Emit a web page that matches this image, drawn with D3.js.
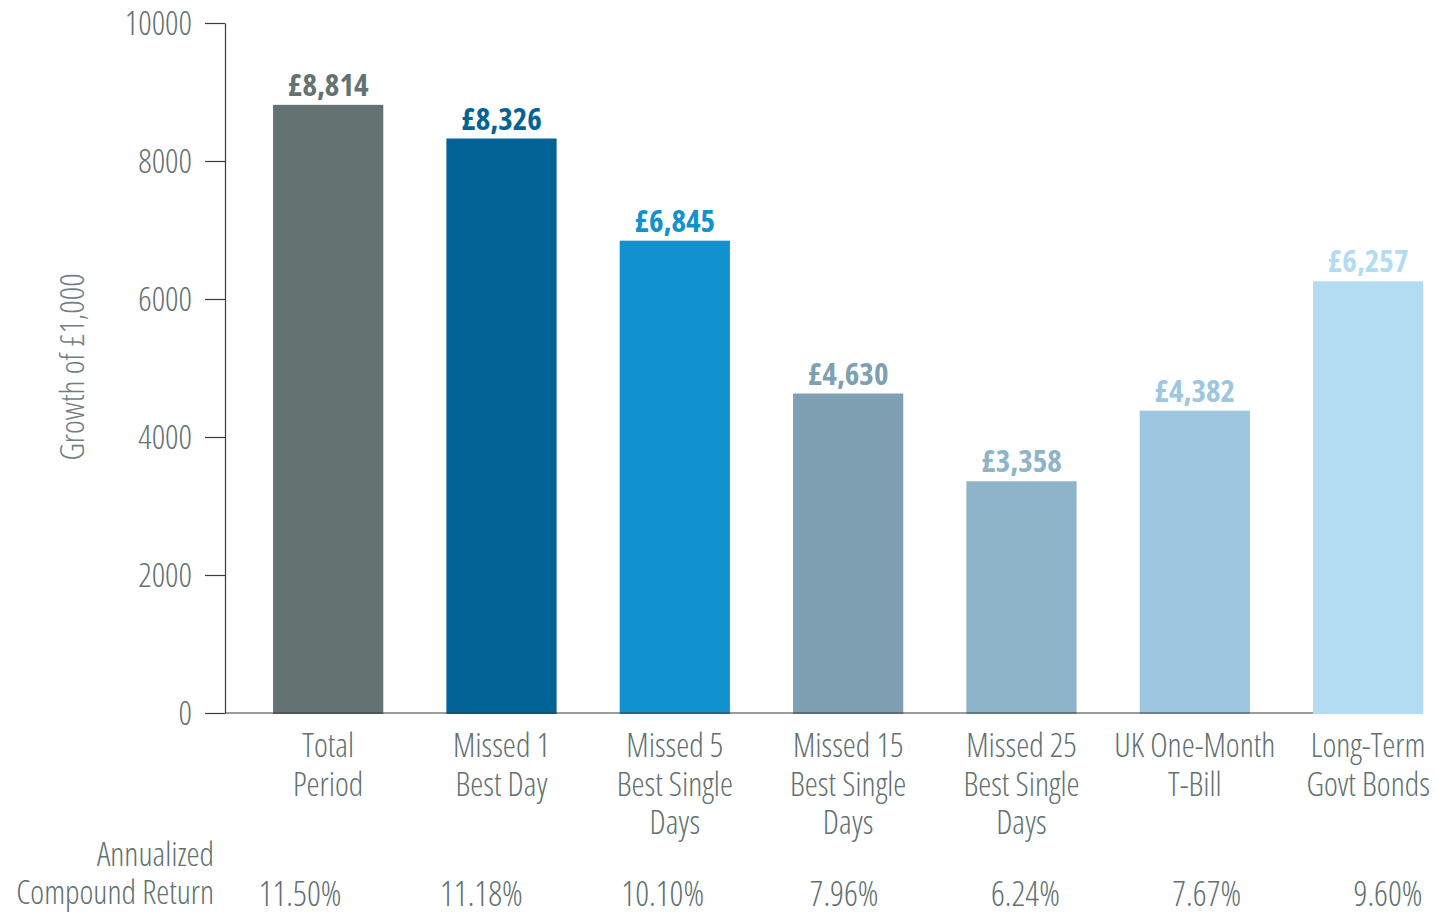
<!DOCTYPE html>
<html>
<head>
<meta charset="utf-8">
<script src="https://cdn.jsdelivr.net/npm/d3@7"></script>
<style>
  body { margin: 0; background: #fff; }
  svg text { font-family: "Open Sans", sans-serif; font-stretch: 75%; font-weight: 300; }
</style>
</head>
<body>
<svg id="chart" width="1436" height="912"></svg>
<script>
// données du graphique
const categories = ["Total\nPeriod", "Missed 1\nBest Day", "Missed 5\nBest Single\nDays", "Missed 15\nBest Single\nDays", "Missed 25\nBest Single\nDays", "UK One-Month\nT-Bill", "Long-Term\nGovt Bonds"];
const values = [8814, 8326, 6845, 4630, 3358, 4382, 6257];
const valueLabels = ["£8,814", "£8,326", "£6,845", "£4,630", "£3,358", "£4,382", "£6,257"];
const returns = ["11.50%", "11.18%", "10.10%", "7.96%", "6.24%", "7.67%", "9.60%"];
const barColors = ["#647272", "#026496", "#1192cf", "#7ea0b2", "#8db4c9", "#9dc7e0", "#b3dcf3"];
const yTicks = [0, 2000, 4000, 6000, 8000, 10000];

const textColor = "#627070";
const svg = d3.select("#chart");

// échelles
const x = d3.scaleBand()
    .domain(d3.range(categories.length))
    .range([241.5, 1454.8])
    .paddingInner(0.364)
    .paddingOuter(0.182);

const y = d3.scaleLinear()
    .domain([0, 10000])
    .range([713, 23]);

// ligne des rendements, un peu décalée par rapport aux barres
const xRet = d3.scalePoint()
    .domain(d3.range(returns.length))
    .range([300, 1388]);

const axisX = 225;

// barres
svg.selectAll("rect.bar")
    .data(values)
    .enter()
    .append("rect")
    .attr("class", "bar")
    .attr("x", (d, i) => x(i))
    .attr("y", d => y(d))
    .attr("width", x.bandwidth())
    .attr("height", d => y(0) - y(d) + 1)
    .attr("fill", (d, i) => barColors[i]);

// étiquettes de valeur
svg.selectAll("text.val")
    .data(values)
    .enter()
    .append("text")
    .attr("class", "val")
    .attr("x", (d, i) => x(i) + x.bandwidth() / 2)
    .attr("y", d => y(d) - 9)
    .attr("text-anchor", "middle")
    .attr("font-size", 31)
    .style("font-weight", 700)
    .attr("fill", (d, i) => barColors[i])
    .text((d, i) => valueLabels[i]);

// axe Y
const yAxis = svg.append("g")
    .attr("transform", `translate(${axisX},0)`)
    .call(d3.axisLeft(y).tickValues(yTicks).tickFormat(d3.format("d")).tickSize(20).tickSizeOuter(0).tickPadding(13));

yAxis.select(".domain").attr("stroke", "#3a3a3a").attr("stroke-width", 1.2);
yAxis.selectAll(".tick line").attr("stroke", "#3a3a3a").attr("stroke-width", 1.2);
yAxis.selectAll(".tick text")
    .attr("font-size", 33)
    .attr("fill", textColor)
    .attr("dy", "0.34em");
yAxis.attr("font-family", null);

// ligne de base
svg.append("line")
    .attr("x1", axisX)
    .attr("x2", x(categories.length - 1))
    .attr("y1", y(0))
    .attr("y2", y(0))
    .attr("stroke", "#3a3a3a")
    .attr("stroke-width", 1.2);

// titre de l'axe Y
svg.append("text")
    .attr("transform", `translate(84,367) rotate(-90)`)
    .attr("text-anchor", "middle")
    .attr("font-size", 33)
    .attr("fill", "#6f7e7e")
    .text("Growth of £1,000");

// libellés des catégories
categories.forEach((c, i) => {
    const t = svg.append("text")
        .attr("text-anchor", "middle")
        .attr("font-size", 33)
        .attr("fill", textColor);
    c.split("\n").forEach((line, j) => {
        t.append("tspan")
            .attr("x", x(i) + x.bandwidth() / 2)
            .attr("y", 757 + j * 38.5)
            .text(line);
    });
});

// rendement annualisé
const rowLabel = svg.append("text")
    .attr("text-anchor", "end")
    .attr("font-size", 33)
    .attr("fill", textColor);
rowLabel.append("tspan").attr("x", 214).attr("y", 866).text("Annualized");
rowLabel.append("tspan").attr("x", 214).attr("y", 904).text("Compound Return");

svg.selectAll("text.ret")
    .data(returns)
    .enter()
    .append("text")
    .attr("class", "ret")
    .attr("x", (d, i) => xRet(i))
    .attr("y", 906)
    .attr("text-anchor", "middle")
    .attr("font-size", 34)
    .attr("fill", textColor)
    .text(d => d);
</script>
</body>
</html>
